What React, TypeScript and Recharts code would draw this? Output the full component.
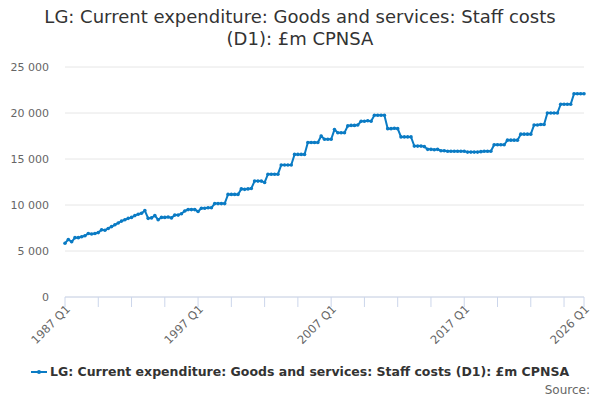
import { LineChart, Line, XAxis, YAxis, CartesianGrid } from "recharts"

const FONT = "'DejaVu Sans', sans-serif"
const LINE_COLOR = "#0a7bc4"

const startYear = 1987

// quarterly values, £m
const values1987to1996 = [
  5850, 6250, 6000, 6450, 6450, 6550, 6650, 6900, 6850, 6900,
  7000, 7300, 7250, 7450, 7650, 7850, 8050, 8250, 8400, 8550,
  8650, 8850, 9000, 9100, 9400, 8550, 8600, 8850, 8400, 8650,
  8650, 8700, 8600, 8900, 8900, 9050, 9350, 9500, 9500, 9500,
]
const values1997to2006 = [
  9300, 9650, 9650, 9700, 9700, 10150, 10150, 10150, 10150, 11150,
  11150, 11150, 11150, 11750, 11700, 11750, 11800, 12600, 12600, 12600,
  12450, 13350, 13350, 13350, 13350, 14350, 14350, 14350, 14350, 15500,
  15500, 15500, 15500, 16800, 16800, 16800, 16800, 17500, 17150, 17150,
]
const values2007to2016 = [
  17150, 18200, 17850, 17850, 17850, 18600, 18650, 18650, 18700, 19100,
  19100, 19150, 19100, 19750, 19750, 19750, 19750, 18300, 18300, 18350,
  18300, 17400, 17400, 17400, 17400, 16400, 16400, 16400, 16350, 16050,
  16050, 16000, 16050, 15900, 15900, 15850, 15850, 15850, 15850, 15850,
]
const values2017to2026 = [
  15850, 15750, 15750, 15750, 15750, 15800, 15850, 15850, 15850, 16550,
  16550, 16550, 16550, 17050, 17050, 17050, 17050, 17700, 17700, 17700,
  17700, 18700, 18700, 18750, 18750, 20000, 20000, 20000, 20000, 20950,
  20950, 20950, 20950, 22100, 22100, 22100, 22100,
]

const values = [...values1987to1996, ...values1997to2006, ...values2007to2016, ...values2017to2026]
const quarters = values.map((_, i) => `${startYear + Math.floor(i / 4)} Q${(i % 4) + 1}`)

const tickQuarters = ["1987 Q1", "1989 Q3", "1992 Q1", "1994 Q3", "1997 Q1", "1999 Q3", "2002 Q1", "2004 Q3",
  "2007 Q1", "2009 Q3", "2012 Q1", "2014 Q3", "2017 Q1", "2019 Q3", "2022 Q1", "2024 Q3", "2026 Q1"]
const labelledQuarters = ["1987 Q1", "1997 Q1", "2007 Q1", "2017 Q1", "2026 Q1"]
const yTicks = [0, 5000, 10000, 15000, 20000, 25000]

const data = quarters.map((q, i) => ({ quarter: q, value: values[i] }))

const SERIES_NAME = "LG: Current expenditure: Goods and services: Staff costs (D1): £m CPNSA"

/** Rotated quarter label, only drawn for the labelled ticks. */
function QuarterTick({ x, y, payload }: any) {
  if (!labelledQuarters.includes(payload.value)) return null
  return (
    <g transform={`translate(${x + 3},${y})`}>
      <text
        transform="rotate(-45)"
        textAnchor="end"
        dy="0.35em"
        fontSize={11.5}
        fontFamily={FONT}
        fill="#666"
      >
        {payload.value}
      </text>
    </g>
  )
}

const formatThousands = (v: number) => v.toString().replace(/\B(?=(\d{3})+(?!\d))/g, " ")

export default function App() {
  return (
    <div style={{ position: "absolute", left: 0, top: 0, width: 600, height: 400, background: "#fff", fontFamily: FONT }}>
      <div
        style={{
          position: "absolute",
          top: 6,
          left: 0,
          width: 600,
          textAlign: "center",
          fontSize: 18,
          lineHeight: "22px",
          color: "#333",
        }}
      >
        LG: Current expenditure: Goods and services: Staff costs
        <br />
        (D1): £m CPNSA
      </div>
      <LineChart width={600} height={400} data={data} margin={{ top: 67, right: 16, bottom: 0, left: 0 }}>
        <CartesianGrid vertical={false} stroke="#e6e6e6" />
        <XAxis
          dataKey="quarter"
          ticks={tickQuarters}
          interval={0}
          height={103}
          tick={<QuarterTick />}
          tickSize={10}
          tickMargin={0}
          tickLine={{ stroke: "#ccd6eb" }}
          axisLine={{ stroke: "#ccd6eb" }}
        />
        <YAxis
          width={65}
          domain={[0, 25000]}
          ticks={yTicks}
          tickFormatter={formatThousands}
          axisLine={false}
          tickLine={false}
          tickSize={0}
          tickMargin={16}
          tick={{ fontSize: 11, fill: "#666", fontFamily: FONT }}
        />
        <Line
          type="linear"
          dataKey="value"
          stroke={LINE_COLOR}
          strokeWidth={2}
          dot={{ r: 1.8, fill: LINE_COLOR, stroke: "none" }}
          isAnimationActive={false}
        />
      </LineChart>
      <div
        style={{
          position: "absolute",
          top: 364,
          left: 0,
          width: 600,
          display: "flex",
          justifyContent: "center",
          alignItems: "center",
          fontSize: 12.5,
          fontWeight: "bold",
          color: "#333",
        }}
      >
        <svg width={16} height={12} style={{ marginRight: 3 }}>
          <line x1={0} x2={16} y1={6} y2={6} stroke={LINE_COLOR} strokeWidth={2} />
          <circle cx={8} cy={6} r={2} fill={LINE_COLOR} />
        </svg>
        {SERIES_NAME}
      </div>
      <div style={{ position: "absolute", top: 383, right: 10, fontSize: 12, color: "#666" }}>Source:</div>
    </div>
  )
}
